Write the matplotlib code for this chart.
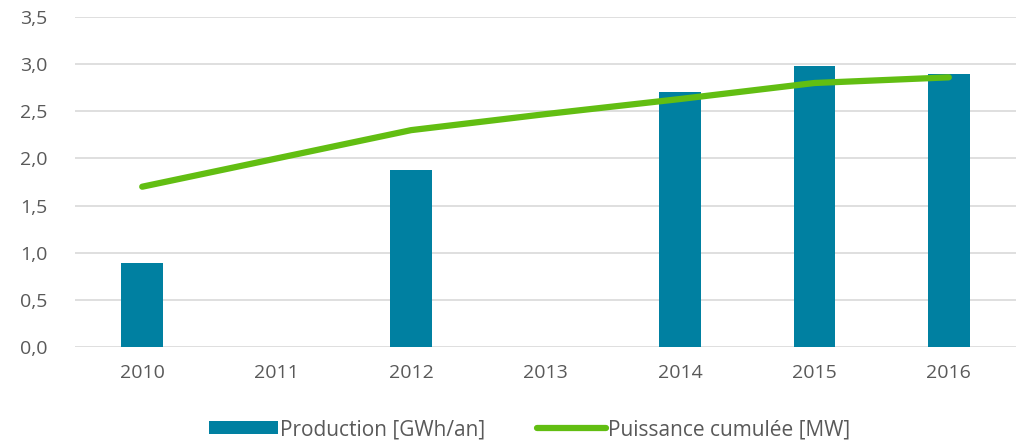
import matplotlib
matplotlib.use("Agg")
import matplotlib.pyplot as plt
import numpy as np

years = ["2010", "2011", "2012", "2013", "2014", "2015", "2016"]
production = [0.89, np.nan, 1.88, np.nan, 2.70, 2.98, 2.90]
puissance = [1.70, 2.00, 2.30, 2.47, 2.63, 2.80, 2.86]

plt.rcParams['font.family'] = ['Open Sans', 'DejaVu Sans']

fig = plt.figure(figsize=(10.18, 4.43), dpi=100)
ax = fig.add_axes([75 / 1018, 1 - 347 / 443, 941 / 1018, 330 / 443])

x = np.arange(len(years))
bars = ax.bar(x, production, width=0.31, color='#0080A1', label='Production [GWh/an]', zorder=2)
line, = ax.plot(x, puissance, color='#62BE12', lw=4.5, solid_capstyle='round',
                label='Puissance cumulée [MW]', zorder=3)

ax.set_xlim(-0.5, len(years) - 0.5)
ax.set_ylim(0, 3.5)
yt = np.arange(0, 3.51, 0.5)
ax.set_yticks(yt)
ax.set_yticklabels([f"{v:.1f}".replace('.', ',') for v in yt])
ax.set_xticks(x)
ax.set_xticklabels(years)
ax.tick_params(length=0, labelsize=14, colors='#595959')
ax.tick_params(axis='y', pad=20)
ax.tick_params(axis='x', pad=12)
ax.grid(axis='y', color='#D9D9D9', lw=1.2, zorder=0)
for s in ax.spines.values():
    s.set_visible(False)

leg = fig.legend([bars, line], ['Production [GWh/an]', 'Puissance cumulée [MW]'],
                 loc='center', bbox_to_anchor=(0.52, 0.03), ncol=2, frameon=False,
                 fontsize=15, handlelength=3.3, handleheight=0.6, columnspacing=2.5,
                 handletextpad=0.1, borderpad=0)
for t in leg.get_texts():
    t.set_color('#595959')

fig.savefig("out.png", dpi=100)
